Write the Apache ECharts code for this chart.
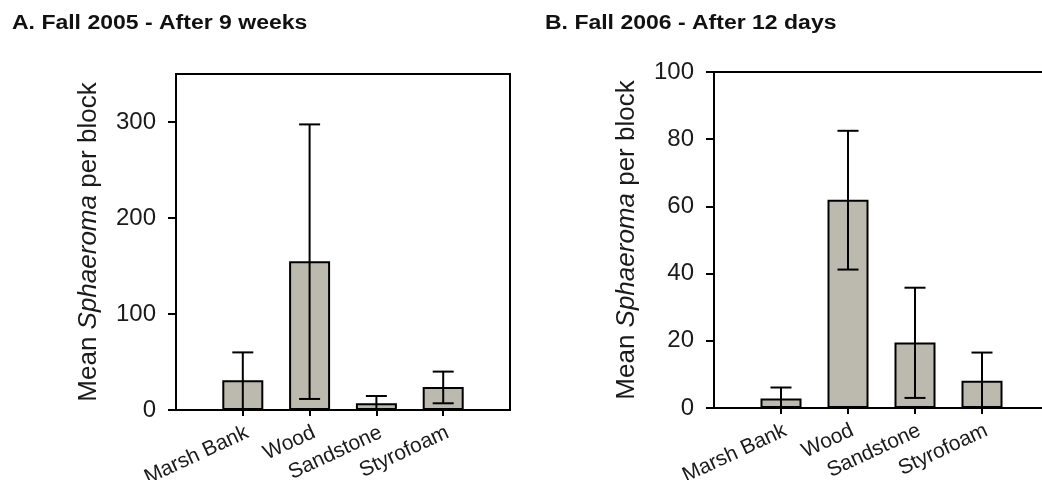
<!DOCTYPE html>
<html>
<head>
<meta charset="utf-8">
<script src="https://cdn.jsdelivr.net/npm/echarts@6/dist/echarts.min.js"></script>
<style>html,body{margin:0;padding:0;background:#fff}#c{width:1042px;height:480px}</style>
</head>
<body>
<div id="c"></div>
<script>
// ---- data ----
const categories = ['Marsh Bank', 'Wood', 'Sandstone', 'Styrofoam'];
const meanA = [31, 155, 7, 24];
const lowA = [1, 11.5, 0, 7];
const highA = [60, 297.5, 14.6, 40];
const meanB = [2.8, 62, 19.5, 8.1];
const lowB = [0, 41.2, 3, 0];
const highB = [6.1, 82.5, 35.8, 16.5];
const ticksA = [0, 100, 200, 300];
const ticksB = [0, 20, 40, 60, 80, 100];
const titleA = 'A. Fall 2005 - After 9 weeks';
const titleB = 'B. Fall 2006 - After 12 days';

// ---- build ----
const FONT = '"Liberation Sans", Arial, sans-serif';
const padCats = [''].concat(categories, ['']);
const pad = arr => ['-'].concat(arr, ['-']);
const errData = (lo, hi) => lo.map((l, i) => [i + 1, l, hi[i]]);

function xAxisFor(gi) {
  return {
    type: 'category', gridIndex: gi, data: padCats, boundaryGap: false,
    axisLine: { show: true, lineStyle: { color: '#000', width: 2 } },
    axisTick: { show: true, length: 6, lineStyle: { color: '#000', width: 2 },
      interval: (idx) => idx >= 1 && idx <= categories.length },
    axisLabel: { interval: 0, rotate: 25, margin: 12, align: 'right', verticalAlign: 'top',
      fontSize: 21, color: '#1a1a1a', fontFamily: FONT },
    splitLine: { show: false }
  };
}
function yAxisFor(gi, max, interval, ticks) {
  return {
    type: 'value', gridIndex: gi, min: 0, max: max, interval: interval,
    name: '{n|Mean }{i|Sphaeroma}{n| per block}', nameLocation: 'middle', nameGap: 74,
    nameTextStyle: { rich: {
      n: { fontSize: 26, color: '#1a1a1a', fontFamily: FONT },
      i: { fontSize: 26, color: '#1a1a1a', fontFamily: FONT, fontStyle: 'italic' } } },
    axisLine: { show: true, lineStyle: { color: '#000', width: 2 } },
    axisTick: { show: true, length: 8, inside: false, lineStyle: { color: '#000', width: 2 }, customValues: ticks },
    axisLabel: { fontSize: 24, margin: 20, color: '#1a1a1a', fontFamily: FONT, customValues: ticks },
    splitLine: { show: false }
  };
}
function errRender(params, api) {
  const x = api.coord([api.value(0), 0])[0];
  const yl = api.coord([api.value(0), api.value(1)])[1];
  const yh = api.coord([api.value(0), api.value(2)])[1];
  const hw = 10.5;
  const st = { stroke: '#000', lineWidth: 2 };
  return { type: 'group', children: [
    { type: 'line', shape: { x1: x, y1: yh, x2: x, y2: yl }, style: st },
    { type: 'line', shape: { x1: x - hw, y1: yh, x2: x + hw, y2: yh }, style: st },
    { type: 'line', shape: { x1: x - hw, y1: yl, x2: x + hw, y2: yl }, style: st }
  ] };
}
const barStyle = { color: '#bcbaae', borderColor: '#000', borderWidth: 2 };

const option = {
  animation: false,
  backgroundColor: '#fff',
  graphic: [
    { type: 'text', x: 12, y: 23, scaleX: 1.15, style: { text: titleA, x: 0, y: 0, fill: '#111',
      font: 'bold 20px ' + FONT, textVerticalAlign: 'middle' } },
    { type: 'text', x: 545, y: 23, scaleX: 1.15, style: { text: titleB, x: 0, y: 0, fill: '#111',
      font: 'bold 20px ' + FONT, textVerticalAlign: 'middle' } }
  ],
  grid: [
    { left: 176, top: 74, width: 334, height: 336, show: true, borderColor: '#000', borderWidth: 2,
      backgroundColor: 'transparent', containLabel: false, outerBoundsMode: 'none' },
    { left: 714, top: 72, width: 335, height: 336, show: true, borderColor: '#000', borderWidth: 2,
      backgroundColor: 'transparent', containLabel: false, outerBoundsMode: 'none' }
  ],
  xAxis: [xAxisFor(0), xAxisFor(1)],
  yAxis: [yAxisFor(0, 350, 100, ticksA), yAxisFor(1, 100, 20, ticksB)],
  series: [
    { type: 'bar', xAxisIndex: 0, yAxisIndex: 0, data: pad(meanA), barWidth: 41, itemStyle: barStyle },
    { type: 'custom', xAxisIndex: 0, yAxisIndex: 0, data: errData(lowA, highA), renderItem: errRender, z: 5, encode: { x: 0, y: [1, 2] } },
    { type: 'bar', xAxisIndex: 1, yAxisIndex: 1, data: pad(meanB), barWidth: 41, itemStyle: barStyle },
    { type: 'custom', xAxisIndex: 1, yAxisIndex: 1, data: errData(lowB, highB), renderItem: errRender, z: 5, encode: { x: 0, y: [1, 2] } }
  ]
};
const chart = echarts.init(document.getElementById('c'), null, { renderer: 'canvas' });
chart.setOption(option);
</script>
</body>
</html>
